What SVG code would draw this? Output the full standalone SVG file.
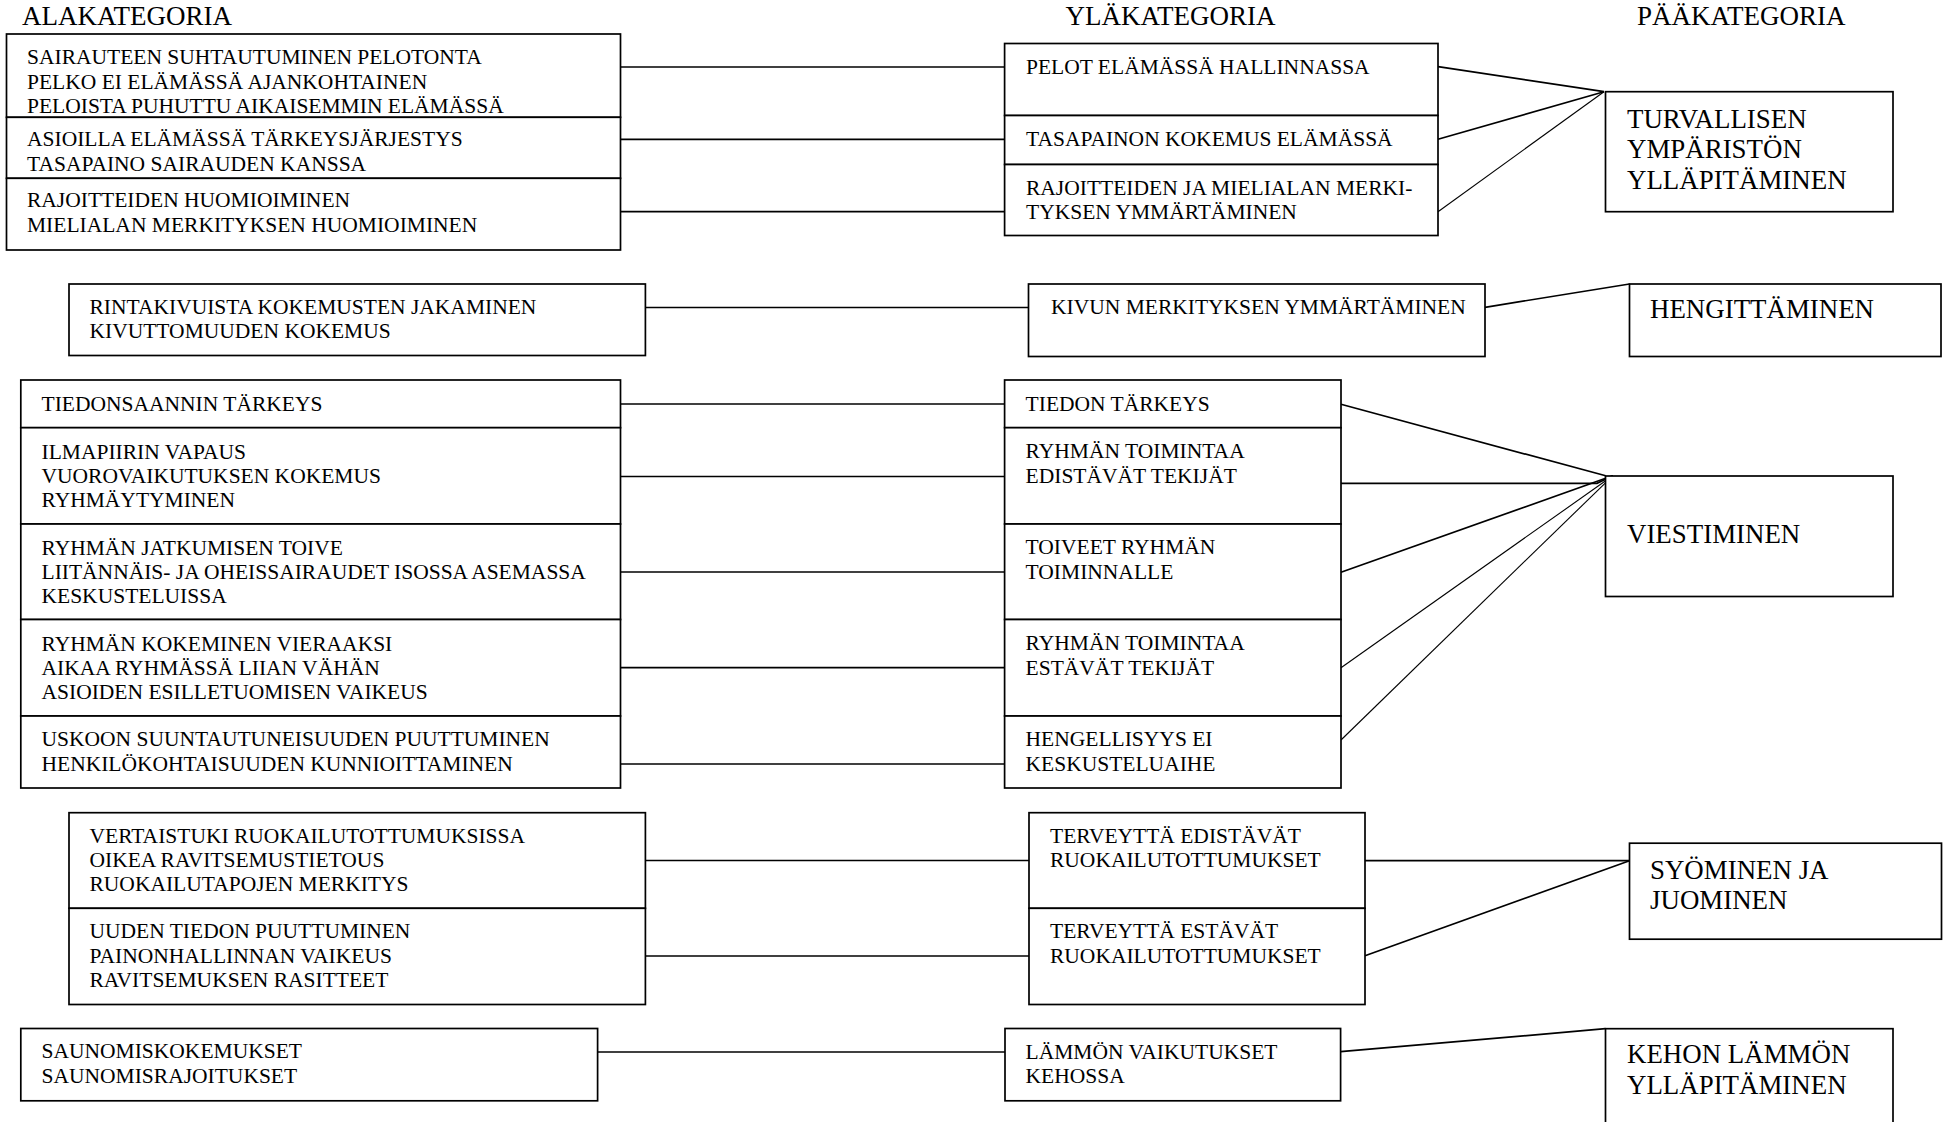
<svg xmlns="http://www.w3.org/2000/svg" width="1957" height="1122" viewBox="0 0 1957 1122">
<style>
  text { font-family: "Liberation Serif", "Times New Roman", serif; fill: #000; }
  .t { font-size: 21.5px; }
  .h { font-size: 27px; }
  .p { font-size: 26.9px; }
  rect { fill: #fff; stroke: #000; stroke-width: 1.7; }
  .c line, .c polyline { stroke: #000; stroke-width: 1.7; fill: none; }
  .c .thin { stroke-width: 1.1; }
</style>
<rect x="0" y="0" width="1957" height="1122" style="stroke:none"/>

<g id="headers">
  <text class="h" x="22" y="25">ALAKATEGORIA</text>
  <text class="h" x="1065.5" y="25">YLÄKATEGORIA</text>
  <text class="h" x="1637" y="25">PÄÄKATEGORIA</text>
</g>

<g id="connectors" class="c">
  <!-- group A -->
  <line x1="620.5" y1="67" x2="1004.6" y2="67"/>
  <line x1="620.5" y1="139.3" x2="1004.6" y2="139.3"/>
  <line x1="620.5" y1="211.7" x2="1027" y2="211.7"/>
  <line x1="1438" y1="66.7" x2="1604" y2="91.7"/>
  <line x1="1438" y1="139.3" x2="1604" y2="91.7"/>
  <line class="thin" x1="1438" y1="211.7" x2="1604" y2="91.7"/>
  <!-- group B -->
  <line x1="645.4" y1="307.5" x2="1028.5" y2="307.5"/>
  <line x1="1485" y1="307.3" x2="1629.5" y2="284"/>
  <!-- group C -->
  <line x1="620.5" y1="404" x2="1004.6" y2="404"/>
  <line x1="620.5" y1="476.5" x2="1004.6" y2="476.5"/>
  <line x1="620.5" y1="572" x2="1004.6" y2="572"/>
  <line x1="620.5" y1="667.7" x2="1004.6" y2="667.7"/>
  <line x1="620.5" y1="764" x2="1004.6" y2="764"/>
  <line x1="1341" y1="404.3" x2="1605.7" y2="475.8"/>
  <polyline points="1341,483.3 1597,483.3 1612.7,475.8"/>
  <line x1="1341" y1="572.3" x2="1612.7" y2="475.8"/>
  <line class="thin" x1="1341" y1="667.7" x2="1612.7" y2="475.8"/>
  <line class="thin" x1="1341" y1="740" x2="1612.7" y2="475.8"/>
  <!-- group D -->
  <line x1="645.4" y1="860.5" x2="1029" y2="860.5"/>
  <line x1="645.4" y1="956" x2="1029" y2="956"/>
  <line x1="1365" y1="860.7" x2="1629.5" y2="860.7"/>
  <line x1="1365" y1="955.7" x2="1629.5" y2="860.7"/>
  <!-- group E -->
  <line x1="597.6" y1="1052" x2="1005" y2="1052"/>
  <line x1="1340.6" y1="1051.7" x2="1605.5" y2="1028.7"/>
</g>

<!-- Group A -->
<g id="a1-1">
  <rect x="6.5" y="34" width="614" height="83.3"/>
  <text class="t"><tspan x="27" y="64.3">SAIRAUTEEN SUHTAUTUMINEN PELOTONTA</tspan><tspan x="27" y="88.6">PELKO EI ELÄMÄSSÄ AJANKOHTAINEN</tspan><tspan x="27" y="112.9">PELOISTA PUHUTTU AIKAISEMMIN ELÄMÄSSÄ</tspan></text>
</g>
<g id="a1-2">
  <rect x="6.5" y="117.3" width="614" height="61"/>
  <text class="t"><tspan x="27" y="146.3">ASIOILLA ELÄMÄSSÄ TÄRKEYSJÄRJESTYS</tspan><tspan x="27" y="170.6">TASAPAINO SAIRAUDEN KANSSA</tspan></text>
</g>
<g id="a1-3">
  <rect x="6.5" y="178.3" width="614" height="71.7"/>
  <text class="t"><tspan x="27" y="207.2">RAJOITTEIDEN HUOMIOIMINEN</tspan><tspan x="27" y="231.5">MIELIALAN MERKITYKSEN HUOMIOIMINEN</tspan></text>
</g>
<g id="a2-1">
  <rect x="1004.6" y="43.5" width="433.4" height="72"/>
  <text class="t" x="1026" y="74">PELOT ELÄMÄSSÄ HALLINNASSA</text>
</g>
<g id="a2-2">
  <rect x="1004.6" y="115.5" width="433.4" height="49"/>
  <text class="t" x="1026" y="145.6">TASAPAINON KOKEMUS ELÄMÄSSÄ</text>
</g>
<g id="a2-3">
  <rect x="1004.6" y="164.5" width="433.4" height="71"/>
  <text class="t"><tspan x="1026" y="194.8">RAJOITTEIDEN JA MIELIALAN MERKI-</tspan><tspan x="1026" y="218.8">TYKSEN YMMÄRTÄMINEN</tspan></text>
</g>
<g id="p-turvallisen">
  <rect x="1605.5" y="91.7" width="287.5" height="120"/>
  <text class="p"><tspan x="1627" y="127.5">TURVALLISEN</tspan><tspan x="1627" y="158">YMPÄRISTÖN</tspan><tspan x="1627" y="188.5">YLLÄPITÄMINEN</tspan></text>
</g>

<!-- Group B -->
<g id="b1">
  <rect x="69" y="284" width="576.4" height="71.5"/>
  <text class="t"><tspan x="89.5" y="313.5">RINTAKIVUISTA KOKEMUSTEN JAKAMINEN</tspan><tspan x="89.5" y="338">KIVUTTOMUUDEN KOKEMUS</tspan></text>
</g>
<g id="b2">
  <rect x="1028.5" y="284" width="456.5" height="72.5"/>
  <text class="t" x="1051" y="314">KIVUN MERKITYKSEN YMMÄRTÄMINEN</text>
</g>
<g id="p-hengittaminen">
  <rect x="1629.5" y="284" width="311.5" height="72.5"/>
  <text class="p" x="1650" y="318">HENGITTÄMINEN</text>
</g>

<!-- Group C -->
<g id="c1-1">
  <rect x="20.8" y="380" width="599.7" height="47.7"/>
  <text class="t" x="41.5" y="410.5">TIEDONSAANNIN TÄRKEYS</text>
</g>
<g id="c1-2">
  <rect x="20.8" y="427.7" width="599.7" height="96.3"/>
  <text class="t"><tspan x="41.5" y="458.5">ILMAPIIRIN VAPAUS</tspan><tspan x="41.5" y="482.8">VUOROVAIKUTUKSEN KOKEMUS</tspan><tspan x="41.5" y="507.1">RYHMÄYTYMINEN</tspan></text>
</g>
<g id="c1-3">
  <rect x="20.8" y="524" width="599.7" height="95.5"/>
  <text class="t"><tspan x="41.5" y="554.5">RYHMÄN JATKUMISEN TOIVE</tspan><tspan x="41.5" y="578.8">LIITÄNNÄIS- JA OHEISSAIRAUDET ISOSSA ASEMASSA</tspan><tspan x="41.5" y="603.1">KESKUSTELUISSA</tspan></text>
</g>
<g id="c1-4">
  <rect x="20.8" y="619.5" width="599.7" height="96.5"/>
  <text class="t"><tspan x="41.5" y="650.5">RYHMÄN KOKEMINEN VIERAAKSI</tspan><tspan x="41.5" y="674.8">AIKAA RYHMÄSSÄ LIIAN VÄHÄN</tspan><tspan x="41.5" y="699.1">ASIOIDEN ESILLETUOMISEN VAIKEUS</tspan></text>
</g>
<g id="c1-5">
  <rect x="20.8" y="716" width="599.7" height="72"/>
  <text class="t"><tspan x="41.5" y="746.2">USKOON SUUNTAUTUNEISUUDEN PUUTTUMINEN</tspan><tspan x="41.5" y="770.6">HENKILÖKOHTAISUUDEN KUNNIOITTAMINEN</tspan></text>
</g>
<g id="c2-1">
  <rect x="1004.6" y="380" width="336.4" height="47.7"/>
  <text class="t" x="1025.6" y="410.7">TIEDON TÄRKEYS</text>
</g>
<g id="c2-2">
  <rect x="1004.6" y="427.7" width="336.4" height="96.3"/>
  <text class="t"><tspan x="1025.6" y="458.4">RYHMÄN TOIMINTAA</tspan><tspan x="1025.6" y="482.7">EDISTÄVÄT TEKIJÄT</tspan></text>
</g>
<g id="c2-3">
  <rect x="1004.6" y="524" width="336.4" height="95.5"/>
  <text class="t"><tspan x="1025.6" y="554.4">TOIVEET RYHMÄN</tspan><tspan x="1025.6" y="578.8">TOIMINNALLE</tspan></text>
</g>
<g id="c2-4">
  <rect x="1004.6" y="619.5" width="336.4" height="96.5"/>
  <text class="t"><tspan x="1025.6" y="650.3">RYHMÄN TOIMINTAA</tspan><tspan x="1025.6" y="674.6">ESTÄVÄT TEKIJÄT</tspan></text>
</g>
<g id="c2-5">
  <rect x="1004.6" y="716" width="336.4" height="72"/>
  <text class="t"><tspan x="1025.6" y="746.2">HENGELLISYYS EI</tspan><tspan x="1025.6" y="770.6">KESKUSTELUAIHE</tspan></text>
</g>
<g id="p-viestiminen">
  <rect x="1605.5" y="476" width="287.5" height="120.5"/>
  <text class="p" x="1627" y="542.5">VIESTIMINEN</text>
</g>

<!-- Group D -->
<g id="d1-1">
  <rect x="69" y="812.7" width="576.4" height="95.6"/>
  <text class="t"><tspan x="89.5" y="842.6">VERTAISTUKI RUOKAILUTOTTUMUKSISSA</tspan><tspan x="89.5" y="867">OIKEA RAVITSEMUSTIETOUS</tspan><tspan x="89.5" y="891.4">RUOKAILUTAPOJEN MERKITYS</tspan></text>
</g>
<g id="d1-2">
  <rect x="69" y="908.3" width="576.4" height="96.2"/>
  <text class="t"><tspan x="89.5" y="938.2">UUDEN TIEDON PUUTTUMINEN</tspan><tspan x="89.5" y="962.6">PAINONHALLINNAN VAIKEUS</tspan><tspan x="89.5" y="987">RAVITSEMUKSEN RASITTEET</tspan></text>
</g>
<g id="d2-1">
  <rect x="1029" y="812.7" width="336" height="95.6"/>
  <text class="t"><tspan x="1050" y="842.7">TERVEYTTÄ EDISTÄVÄT</tspan><tspan x="1050" y="867.2">RUOKAILUTOTTUMUKSET</tspan></text>
</g>
<g id="d2-2">
  <rect x="1029" y="908.3" width="336" height="96.2"/>
  <text class="t"><tspan x="1050" y="938.3">TERVEYTTÄ ESTÄVÄT</tspan><tspan x="1050" y="962.8">RUOKAILUTOTTUMUKSET</tspan></text>
</g>
<g id="p-syominen">
  <rect x="1629.5" y="843.2" width="312" height="96"/>
  <text class="p"><tspan x="1650" y="879">SYÖMINEN JA</tspan><tspan x="1650" y="909">JUOMINEN</tspan></text>
</g>

<!-- Group E -->
<g id="e1">
  <rect x="20.8" y="1028.5" width="576.8" height="72.3"/>
  <text class="t"><tspan x="41.5" y="1058.4">SAUNOMISKOKEMUKSET</tspan><tspan x="41.5" y="1083">SAUNOMISRAJOITUKSET</tspan></text>
</g>
<g id="e2">
  <rect x="1005" y="1028.5" width="335.6" height="72.3"/>
  <text class="t"><tspan x="1025.6" y="1058.8">LÄMMÖN VAIKUTUKSET</tspan><tspan x="1025.6" y="1083.3">KEHOSSA</tspan></text>
</g>
<g id="p-kehon">
  <rect x="1605.5" y="1028.7" width="287.5" height="120"/>
  <text class="p"><tspan x="1627" y="1063.3">KEHON LÄMMÖN</tspan><tspan x="1627" y="1093.5">YLLÄPITÄMINEN</tspan></text>
</g>
</svg>
